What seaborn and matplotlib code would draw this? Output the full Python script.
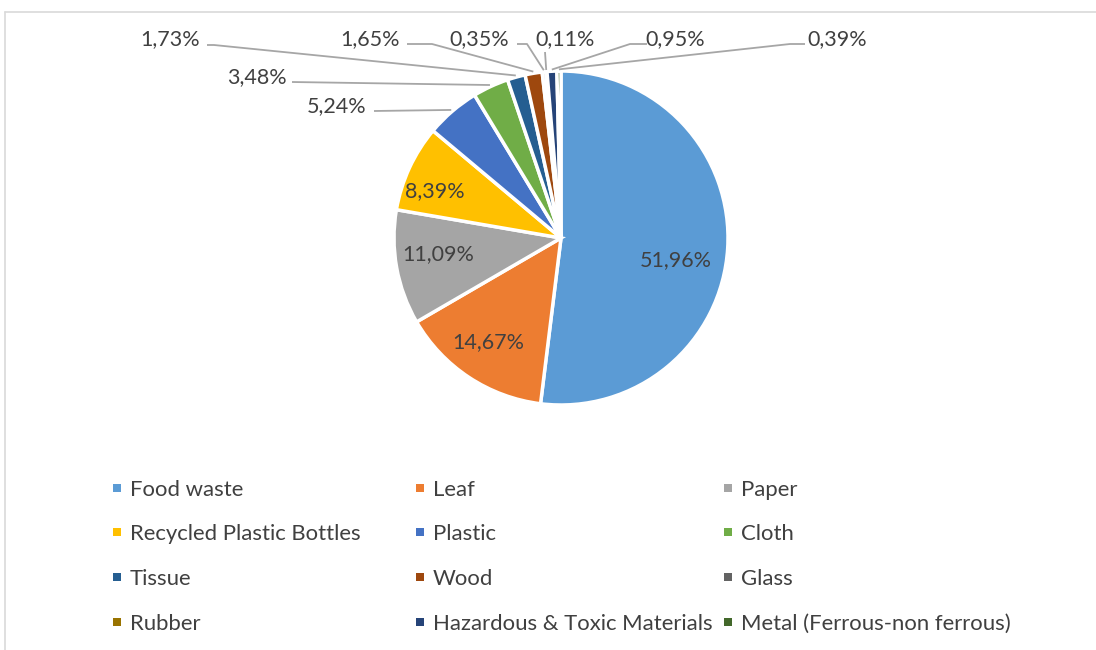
import numpy as np
import matplotlib
matplotlib.use("Agg")
import matplotlib.pyplot as plt
from matplotlib.patches import Rectangle
from matplotlib.lines import Line2D
import seaborn as sns

# ---------------- data ----------------
categories = ["Food waste", "Leaf", "Paper", "Recycled Plastic Bottles", "Plastic",
              "Cloth", "Tissue", "Wood", "Glass", "Rubber",
              "Hazardous & Toxic Materials", "Metal (Ferrous-non ferrous)"]
values = [51.96, 14.67, 11.09, 8.39, 5.24, 3.48, 1.73, 1.65, 0.35, 0.11, 0.95, 0.39]
labels = ["51,96%", "14,67%", "11,09%", "8,39%", "5,24%", "3,48%", "1,73%",
          "1,65%", "0,35%", "0,11%", "0,95%", "0,39%"]
colors = ["#5B9BD5", "#ED7D31", "#A5A5A5", "#FFC000", "#4472C4", "#70AD47",
          "#255E91", "#9E480E", "#636363", "#997300", "#264478", "#43682B"]

# ---------------- layout (pixels) ----------------
W, H, DPI = 1096, 650, 100
CX, CY, R = 561, 238, 167
TEXT = "#404040"
LINE = "#A6A6A6"
FS = 15.5
FS_LEG = 15.9

# inside label positions (px)
inside_pos = {0: (676, 260), 1: (488, 342), 2: (438, 254), 3: (435, 191)}
# outside labels: text center (px), line start (px), kink (px) or None
outside = {
    4: ((337, 106), (374, 111), None),
    5: ((257, 77), (292, 82), None),
    6: ((170, 39), (207, 45), (214, 45)),
    7: ((370, 39), (407, 44), (432, 44)),
    8: ((479, 39), (517, 44), (527, 44)),
    9: ((565, 39), (545, 52), None),
    10: ((675, 39), (647, 44), (630, 44)),
    11: ((837, 39), (805, 44), (790, 44)),
}

sns.set_theme(style="white")
plt.rcParams["font.family"] = ["Lato", "DejaVu Sans"]

fig = plt.figure(figsize=(W / DPI, H / DPI), dpi=DPI)
half = 1.5 * R
ax = fig.add_axes([(CX - half) / W, (H - CY - half) / H, 2 * half / W, 2 * half / H])

wedges, _ = ax.pie(values, colors=sns.color_palette(colors), startangle=90,
                   counterclock=False,
                   wedgeprops=dict(edgecolor="white", linewidth=2.5))
ax.set_xlim(-1.5, 1.5)
ax.set_ylim(-1.5, 1.5)
ax.set_aspect("equal")
ax.axis("off")


def px2d(p):
    return ((p[0] - CX) / R, (CY - p[1]) / R)


for i, (x, y) in inside_pos.items():
    dx, dy = px2d((x, y))
    ax.text(dx, dy, labels[i], ha="center", va="center", fontsize=FS, color=TEXT)

for i, (tc, ls, kink) in outside.items():
    w = wedges[i]
    mid = np.deg2rad((w.theta1 + w.theta2) / 2)
    end = (np.cos(mid) * 1.01, np.sin(mid) * 1.01)
    pts = [px2d(ls)]
    if kink is not None:
        pts.append(px2d(kink))
    pts.append(end)
    xs, ys = zip(*pts)
    ax.plot(xs, ys, color=LINE, lw=1.3, clip_on=False, solid_capstyle="butt")
    tx, ty = px2d(tc)
    ax.text(tx, ty, labels[i], ha="center", va="center", fontsize=FS, color=TEXT)

# legend (3 columns, row-major order)
col_x = [117, 420, 728]
row_y = [488, 532, 577, 622]
for k, (cat, col) in enumerate(zip(categories, colors)):
    r, c = divmod(k, 3)
    mx, my = col_x[c], row_y[r]
    s = 8
    fig.add_artist(Rectangle(((mx - s / 2) / W, (H - my - s / 2) / H), s / W, s / H,
                             transform=fig.transFigure, facecolor=col, edgecolor="none"))
    fig.text((mx + 13) / W, (H - my) / H, cat, ha="left", va="center_baseline",
             fontsize=FS_LEG, color=TEXT)

# chart border (top and left visible)
fig.add_artist(Line2D([5 / W, 5 / W], [0, 1 - 12 / H], transform=fig.transFigure,
                      color="#D9D9D9", lw=1.2))
fig.add_artist(Line2D([5 / W, 1], [1 - 12 / H, 1 - 12 / H], transform=fig.transFigure,
                      color="#D9D9D9", lw=1.2))

fig.savefig("out.png", dpi=DPI, facecolor="white")
